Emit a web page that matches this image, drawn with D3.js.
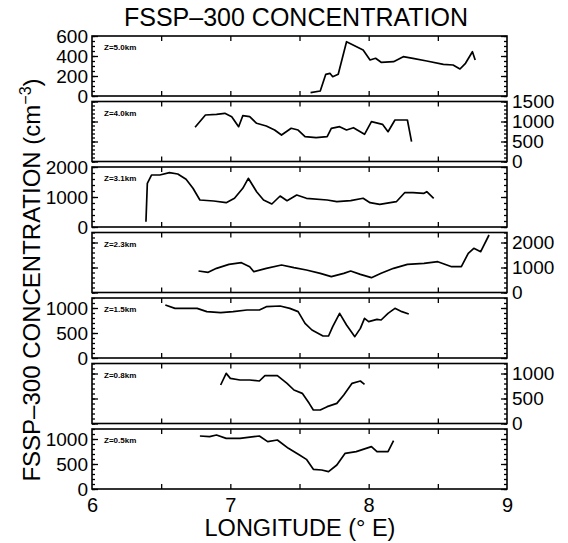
<!DOCTYPE html>
<html>
<head>
<meta charset="utf-8">
<script src="https://cdn.jsdelivr.net/npm/d3@7"></script>
<style>
  body { margin: 0; background: #fff; }
  svg { font-family: "Liberation Sans", Arial, sans-serif; }
</style>
</head>
<body>
<div id="chart"></div>
<script>
// panel labels (altitude of each flight leg)
const levels = ["Z=5.0km", "Z=4.0km", "Z=3.1km", "Z=2.3km", "Z=1.5km", "Z=0.8km", "Z=0.5km"];
const yMax = [600, 1500, 2000, 2400, 1200, 1200, 1200];
const yTicks = [[0, 200, 400, 600], [0, 500, 1000, 1500], [0, 1000, 2000], [0, 1000, 2000],
                [0, 500, 1000], [0, 500, 1000], [0, 500, 1000]];
const yMinor = [50, 100, 200, 200, 100, 100, 100];
const labelSide = ["left", "right", "left", "right", "left", "right", "left"];
const xTicks = [6.5, 7, 7.5, 8, 8.5];
const xLabels = [6, 7, 8, 9];

// Z=5.0km
const lon50 = [7.58, 7.65, 7.69, 7.72, 7.74, 7.78, 7.84, 7.96, 8.01, 8.05, 8.09, 8.18, 8.25, 8.32, 8.42, 8.54, 8.61, 8.66, 8.70, 8.75, 8.77];
const conc50 = [33, 50, 217, 227, 193, 217, 543, 460, 360, 377, 337, 343, 393, 377, 350, 317, 310, 270, 327, 443, 360];
// Z=4.0km
const lon40 = [6.745, 6.82, 6.90, 6.96, 7.01, 7.06, 7.09, 7.14, 7.19, 7.26, 7.32, 7.37, 7.44, 7.49, 7.54, 7.62, 7.70, 7.73, 7.79, 7.84, 7.89, 7.97, 8.02, 8.10, 8.14, 8.19, 8.28, 8.31];
const conc40 = [855, 1162, 1180, 1205, 1120, 870, 1145, 1120, 955, 887, 787, 662, 830, 787, 620, 595, 620, 830, 870, 787, 845, 680, 995, 930, 745, 1037, 1037, 495];
// Z=3.1km
const lon31 = [6.39, 6.40, 6.43, 6.49, 6.56, 6.62, 6.68, 6.73, 6.78, 6.88, 6.97, 7.03, 7.09, 7.13, 7.19, 7.24, 7.30, 7.36, 7.41, 7.48, 7.55, 7.70, 7.77, 7.87, 7.96, 8.01, 8.08, 8.20, 8.26, 8.32, 8.40, 8.42, 8.47];
const conc31 = [177, 1457, 1733, 1733, 1810, 1767, 1590, 1290, 900, 867, 810, 957, 1290, 1623, 1177, 900, 767, 1033, 877, 1067, 957, 900, 843, 877, 957, 810, 757, 843, 1143, 1143, 1123, 1177, 957];
// Z=2.3km
const lon23 = [6.77, 6.84, 6.90, 6.99, 7.08, 7.14, 7.17, 7.26, 7.37, 7.46, 7.55, 7.65, 7.73, 7.82, 7.87, 7.94, 8.02, 8.09, 8.18, 8.28, 8.40, 8.50, 8.60, 8.67, 8.72, 8.76, 8.81, 8.87];
const conc23 = [860, 807, 967, 1127, 1193, 1033, 833, 967, 1100, 993, 900, 767, 633, 767, 860, 727, 593, 767, 967, 1127, 1167, 1233, 1033, 1033, 1567, 1767, 1633, 2300];
// Z=1.5km
const lon15 = [6.53, 6.60, 6.68, 6.76, 6.83, 6.93, 7.02, 7.12, 7.21, 7.26, 7.36, 7.43, 7.49, 7.54, 7.59, 7.67, 7.71, 7.74, 7.79, 7.84, 7.90, 7.94, 7.97, 8.00, 8.06, 8.09, 8.14, 8.19, 8.24, 8.29];
const conc15 = [1060, 993, 993, 993, 927, 907, 927, 960, 960, 1027, 1040, 993, 927, 693, 560, 440, 440, 627, 893, 660, 427, 593, 793, 727, 773, 760, 893, 993, 927, 880];
// Z=0.8km
const lon08 = [6.93, 6.97, 7.00, 7.07, 7.14, 7.21, 7.25, 7.34, 7.41, 7.46, 7.52, 7.57, 7.60, 7.65, 7.70, 7.77, 7.82, 7.88, 7.94, 7.97];
const conc08 = [770, 1003, 903, 870, 870, 850, 957, 957, 803, 670, 603, 403, 270, 270, 337, 403, 570, 803, 850, 783];
// Z=0.5km
const lon05 = [6.78, 6.85, 6.90, 6.97, 7.07, 7.17, 7.21, 7.27, 7.34, 7.42, 7.50, 7.55, 7.60, 7.66, 7.71, 7.77, 7.83, 7.91, 8.02, 8.06, 8.14, 8.18];
const conc05 = [1060, 1047, 1080, 1013, 1013, 1047, 1060, 947, 980, 813, 680, 593, 393, 380, 347, 480, 713, 747, 847, 747, 747, 967];

const lons = [lon50, lon40, lon31, lon23, lon15, lon08, lon05];
const concs = [conc50, conc40, conc31, conc23, conc15, conc08, conc05];

const W = 568, H = 543;
const left = 92, right = 507, top0 = 36, panelH = 60, pitch = 65.5;

const svg = d3.select("#chart").append("svg")
    .attr("width", W)
    .attr("height", H);

const x = d3.scaleLinear().domain([6, 9]).range([left, right]);

levels.forEach((lev, i) => {
    const top = top0 + i * pitch;
    const y = d3.scaleLinear().domain([0, yMax[i]]).range([top + panelH, top]);
    const g = svg.append("g");

    const minor = d3.range(0, yMax[i] + 0.1, yMinor[i]);

    // inward minor + major ticks on both sides
    g.append("g").attr("transform", `translate(${left},0)`)
        .call(d3.axisLeft(y).tickValues(minor).tickSize(-3).tickFormat(""));
    g.append("g").attr("transform", `translate(${left},0)`)
        .call(d3.axisLeft(y).tickValues(yTicks[i]).tickSize(-6).tickFormat(""));
    g.append("g").attr("transform", `translate(${right},0)`)
        .call(d3.axisRight(y).tickValues(minor).tickSize(-3).tickFormat(""));
    g.append("g").attr("transform", `translate(${right},0)`)
        .call(d3.axisRight(y).tickValues(yTicks[i]).tickSize(-6).tickFormat(""));
    g.append("g").attr("transform", `translate(0,${top})`)
        .call(d3.axisTop(x).tickValues(xTicks).tickSize(-5).tickFormat(""));
    g.append("g").attr("transform", `translate(0,${top + panelH})`)
        .call(d3.axisBottom(x).tickValues(xTicks).tickSize(-5).tickFormat(""));
    g.selectAll(".domain").remove();
    g.selectAll(".tick line").attr("stroke", "#000").attr("stroke-width", 1.3);

    // value labels on alternating sides
    const lab = labelSide[i] === "left"
        ? d3.axisLeft(y).tickValues(yTicks[i]).tickSize(0).tickPadding(4)
        : d3.axisRight(y).tickValues(yTicks[i]).tickSize(0).tickPadding(5);
    const la = g.append("g")
        .attr("transform", `translate(${labelSide[i] === "left" ? left : right},0)`)
        .call(lab.tickFormat(d3.format("d")));
    la.select(".domain").remove();
    la.selectAll("text").attr("font-size", 19).attr("font-family", "Liberation Sans, Arial, sans-serif").attr("fill", "#000");

    // frame
    g.append("rect")
        .attr("x", left).attr("y", top)
        .attr("width", right - left).attr("height", panelH)
        .attr("fill", "none").attr("stroke", "#000").attr("stroke-width", 1.6);

    g.append("text")
        .attr("x", left + 12).attr("y", top + 14)
        .attr("font-size", 8).attr("font-weight", "bold")
        .text(lev);

    const pts = lons[i].map((d, k) => [d, concs[i][k]]);
    g.append("path")
        .datum(pts)
        .attr("fill", "none").attr("stroke", "#000").attr("stroke-width", 1.7)
        .attr("stroke-linejoin", "round")
        .attr("d", d3.line().x(d => x(d[0])).y(d => y(d[1])));
});

// x tick labels under the last panel
const bottom = top0 + 6 * pitch + panelH;
const xa = svg.append("g").attr("transform", `translate(0,${bottom})`)
    .call(d3.axisBottom(x).tickValues(xLabels).tickSize(0).tickPadding(9).tickFormat(d3.format("d")));
xa.select(".domain").remove();
xa.selectAll("text").attr("font-size", 20).attr("font-family", "Liberation Sans, Arial, sans-serif").attr("fill", "#000");

svg.append("text")
    .attr("x", 296).attr("y", 26)
    .attr("text-anchor", "middle").attr("font-size", 25)
    .text("FSSP\u2013300 CONCENTRATION");

svg.append("text")
    .attr("x", 300).attr("y", 536)
    .attr("text-anchor", "middle").attr("font-size", 23.5)
    .text("LONGITUDE (\u00B0  E)");

const yl = svg.append("text")
    .attr("transform", "translate(40,280) rotate(-90)")
    .attr("text-anchor", "middle").attr("font-size", 24);
yl.append("tspan").text("FSSP\u2013300 CONCENTRATION (cm");
yl.append("tspan").attr("dy", -9).attr("font-size", 16).text("\u22123");
yl.append("tspan").attr("dy", 9).text(")");
</script>
</body>
</html>
